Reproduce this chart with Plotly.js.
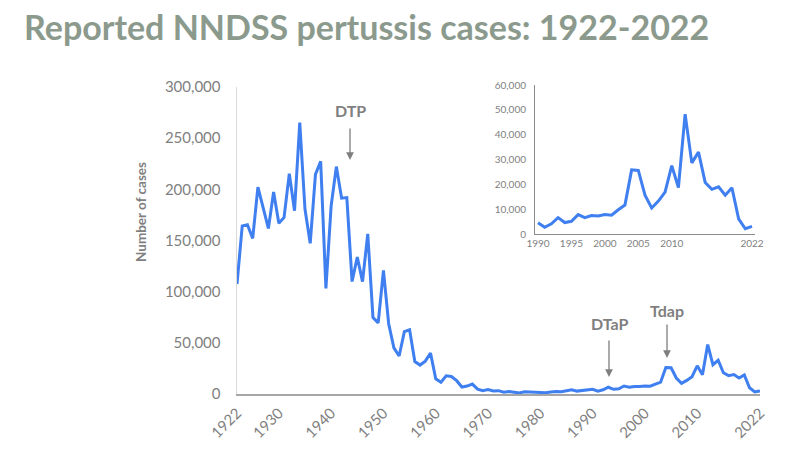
<!DOCTYPE html>
<html>
<head>
<meta charset="utf-8">
<script src="https://cdn.plot.ly/plotly-3.0.1.min.js"></script>
<style>html,body{margin:0;padding:0;background:#fff;}#chart{width:789px;height:458px;}</style>
</head>
<body>
<div id="chart"></div>
<script>
// Data
const years = [];
for (let y = 1922; y <= 2022; y++) years.push(y);
const cases = [
  107473,164191,165418,152003,202210,181411,161799,197371,166914,172559,
  215343,179135,265269,180518,147237,214652,227319,103188,183866,222202,
  191383,191890,109873,133792,109860,156517,74715,69479,120718,68687,
  45030,37129,60886,62786,31732,28295,32148,40005,14809,11468,
  17749,17135,13005,6799,7717,9718,4810,3285,4249,3036,
  3287,1759,2402,1738,1010,2177,2063,1623,1730,1248,
  1895,2463,2276,3589,4195,2823,3450,4157,4570,2719,
  4083,6586,4617,5137,7796,6564,7405,7288,7867,7580,
  9771,11647,25827,25616,15632,10454,13278,16858,27550,18719,
  48277,28639,32971,20762,17972,18975,15609,18617,6124,2116,
  3044
];
const mainTickYears = [1922,1930,1940,1950,1960,1970,1980,1990,2000,2010,2022];
const mainYTicks = [0,50000,100000,150000,200000,250000,300000];
const insetStart = 1990;
const insetTickYears = [1990,1995,2000,2005,2010,2022];
const insetYTicks = [0,10000,20000,30000,40000,50000,60000];
const vaccineLabels = ['DTP','DTaP','Tdap'];

const insetYears = years.filter(y => y >= insetStart);
const insetCases = cases.filter((c, i) => years[i] >= insetStart);

const W = 789, H = 458;
const px = x => x / W;
const py = y => 1 - y / H;
const blue = '#3f7fef';
const gray = '#7f7f7f';
const font = 'Lato, "Open Sans", sans-serif';
const fmt = v => v.toLocaleString('en-US');

const traces = [
  {x: years, y: cases, type: 'scatter', mode: 'lines', line: {color: blue, width: 3}, xaxis: 'x', yaxis: 'y', hoverinfo: 'x+y'},
  {x: insetYears, y: insetCases, type: 'scatter', mode: 'lines', line: {color: blue, width: 3}, xaxis: 'x2', yaxis: 'y2', hoverinfo: 'x+y'}
];

const arrowPos = [
  {tx: 350, ty: 111, hx: 350, hy: 160, tail: 127},
  {tx: 610, ty: 323, hx: 609, hy: 377, tail: 339},
  {tx: 667, ty: 310, hx: 667, hy: 358, tail: 323}
];
const annotations = [];
vaccineLabels.forEach((lab, i) => {
  const a = arrowPos[i];
  annotations.push({xref: 'paper', yref: 'paper', x: px(a.tx), y: py(a.ty), text: '<b>' + lab + '</b>', showarrow: false,
    font: {family: font, size: 16, color: gray}, xanchor: 'center', yanchor: 'middle'});
  annotations.push({xref: 'paper', yref: 'paper', x: px(a.hx), y: py(a.hy), text: '', showarrow: true,
    ax: 0, ay: a.tail - a.hy, arrowhead: 2, arrowsize: 1.2, arrowwidth: 1.3, arrowcolor: gray, standoff: 0, startstandoff: 0});
});
annotations.push({xref: 'paper', yref: 'paper', x: px(141), y: py(212), text: '<b>Number of cases</b>', showarrow: false,
  textangle: -90, font: {family: font, size: 13.5, color: gray}, xanchor: 'center', yanchor: 'middle'});

const layout = {
  width: W, height: H,
  margin: {l: 0, r: 0, t: 0, b: 0},
  paper_bgcolor: '#fff', plot_bgcolor: 'rgba(0,0,0,0)',
  showlegend: false,
  font: {family: font, color: gray},
  title: {text: '<b>Reported NNDSS pertussis cases: 1922-2022</b>', x: px(24), xanchor: 'left', y: py(28), yanchor: 'middle',
    font: {family: font, size: 34, color: '#8b9a8d'}},
  xaxis: {domain: [px(237), px(760)], range: [1922, 2022], tickvals: mainTickYears, ticktext: mainTickYears.map(String),
    tickangle: -45, tickfont: {size: 15, color: gray}, showgrid: false, zeroline: false,
    showline: true, linecolor: '#a6a6a6', linewidth: 1.5, ticks: '', ticklabelstandoff: 3, anchor: 'y'},
  yaxis: {domain: [py(394), py(87)], range: [0, 300000], tickvals: mainYTicks, ticktext: mainYTicks.map(fmt),
    tickfont: {size: 15, color: gray}, showgrid: false, zeroline: false, showline: true, linecolor: '#d9d9d9', linewidth: 1.5,
    ticks: '', ticklabelstandoff: 12, anchor: 'x'},
  xaxis2: {domain: [px(535), px(755)], range: [1989.55, 2022.45], tickvals: insetTickYears, ticktext: insetTickYears.map(String),
    tickangle: 0, tickfont: {size: 10, color: gray}, showgrid: false, zeroline: false, showline: true, linecolor: '#8c8c8c',
    linewidth: 1, ticks: '', anchor: 'y2'},
  yaxis2: {domain: [py(234), py(85)], range: [0, 60000], tickvals: insetYTicks, ticktext: insetYTicks.map(fmt),
    tickfont: {size: 10, color: gray}, showgrid: false, zeroline: false, showline: true, linecolor: '#8c8c8c',
    linewidth: 1, ticks: '', ticklabelstandoff: 6, anchor: 'x2'},
  annotations: annotations
};

Plotly.newPlot('chart', traces, layout, {displayModeBar: false, staticPlot: true});
</script>
</body>
</html>
